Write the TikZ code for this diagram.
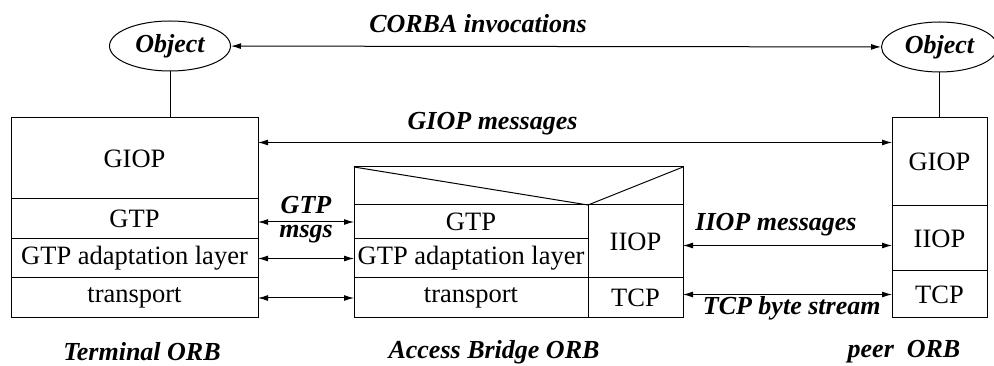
\documentclass[tikz,border=0pt]{standalone}
\usepackage{fontspec}
\setmainfont{Liberation Serif}
\usetikzlibrary{arrows.meta,shapes.geometric,positioning}

\begin{document}
\begin{tikzpicture}[x=1pt,y=-1pt,>={Latex[length=10pt,width=6pt]},line width=1pt,node distance=0pt]
  \tikzstyle{layer}=[draw,rectangle,inner sep=0pt,outer sep=0pt,font=\fontsize{26.5}{30}\selectfont]
  \tikzstyle{lbl}=[inner sep=0pt,font=\fontsize{26}{30}\selectfont\bfseries\itshape]
  \tikzstyle{obj}=[draw,ellipse,inner sep=0pt,minimum height=50pt,font=\fontsize{26}{30}\selectfont\bfseries\itshape]
  \tikzstyle{msg}=[<->]
  \useasboundingbox (0,0) rectangle (994,366);

  % terminal ORB
  \node[layer,minimum width=247pt,minimum height=81pt] (tgiop) at (134.5,158.5) {GIOP};
  \node[layer,minimum width=247pt,minimum height=40pt] (tgtp) [below=of tgiop] {GTP};
  \node[layer,minimum width=247pt,minimum height=39pt] (tada) [below=of tgtp] {GTP adaptation layer};
  \node[layer,minimum width=247pt,minimum height=40pt] (ttrans) [below=of tada] {transport};

  % access bridge ORB
  \node[layer,minimum width=234pt,minimum height=34pt] (bgtp) at (471,222) {GTP};
  \node[layer,minimum width=234pt,minimum height=39pt] (bada) [below=of bgtp] {GTP adaptation layer};
  \node[layer,minimum width=234pt,minimum height=40pt] (btrans) [below=of bada] {transport};
  \node[layer,minimum width=95pt,minimum height=73pt,anchor=north west] (biiop) at (bgtp.north east) {IIOP};
  \node[layer,minimum width=95pt,minimum height=40pt] (btcp) [below=of biiop] {TCP};
  \coordinate (btl) at ([yshift=38pt]bgtp.north west);
  \coordinate (btr) at ([yshift=38pt]biiop.north east);
  \draw (bgtp.north west) -- (btl) -- (btr) -- (biiop.north east);
  \draw (btl) -- (bgtp.north east) -- (btr);

  % peer ORB
  \node[layer,minimum width=95pt,minimum height=88pt] (pgiop) at (939.5,162) {GIOP};
  \node[layer,minimum width=95pt,minimum height=65pt] (piiop) [below=of pgiop] {IIOP};
  \node[layer,minimum width=95pt,minimum height=47pt] (ptcp) [below=of piiop] {TCP};

  % objects
  \node[obj,minimum width=121pt] (lobj) at (170,46) {Object};
  \node[obj,minimum width=116pt] (robj) at (939.5,47) {Object};
  \draw (lobj.south) -- (lobj.south |- tgiop.north);
  \draw (robj) -- (pgiop);

  % messages
  \draw[msg] (lobj) -- node[lbl,pos=.38,yshift=23pt] {CORBA invocations} (robj);
  \coordinate (gm) at ([yshift=16pt]tgiop.east);
  \draw[msg] (gm) -- node[lbl,pos=.37,yshift=19pt] {GIOP messages} (gm -| pgiop.west);
  \draw[msg] (tgtp.east |- bgtp.west) -- node[lbl,yshift=17pt] {GTP} node[lbl,yshift=-12pt] {msgs} (bgtp.west);
  \draw[msg] (tada.east) -- (bada.west);
  \draw[msg] (ttrans.east) -- (btrans.west);
  \coordinate (im) at ([yshift=-4pt]biiop.east);
  \draw[msg] (im) -- node[lbl,pos=.445,yshift=21pt] {IIOP messages} (im -| piiop.west);
  \draw[msg] (btcp.east |- ptcp.west) -- node[lbl,pos=.52,yshift=-14pt] {TCP byte stream} (ptcp.west);

  % names
  \node[lbl] (tname) at (142,352) {Terminal ORB};
  \node[lbl] (bname) at (494,352) {Access Bridge ORB};
  \node[lbl] (pname) at (904,352) {peer\ \ ORB};
\end{tikzpicture}
\end{document}
